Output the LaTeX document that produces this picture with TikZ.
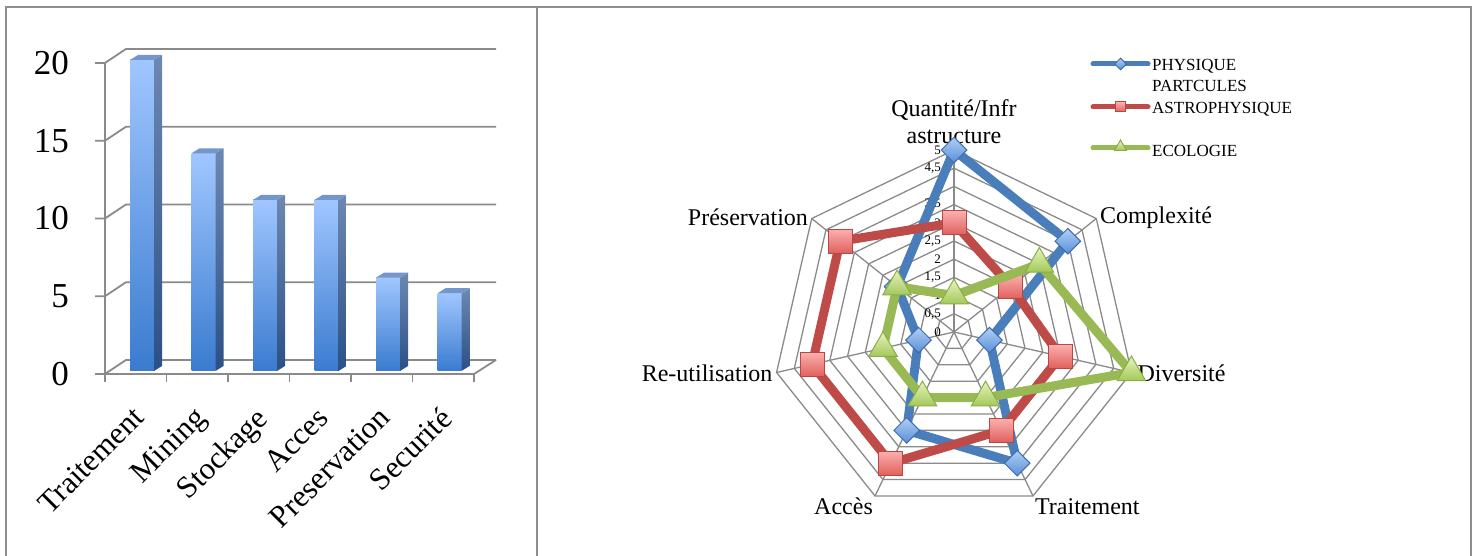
\documentclass[tikz,border=0pt]{standalone}
\usepackage{fontspec}
\setmainfont{Liberation Serif}
\usetikzlibrary{shapes.geometric}

\definecolor{framegray}{HTML}{8E8E8E}
\definecolor{gridgray}{HTML}{8A8A8A}
\definecolor{barlight}{HTML}{A0C6FF}
\definecolor{bardark}{HTML}{3A7BCF}
\definecolor{sidelight}{HTML}{6C88B2}
\definecolor{sidedark}{HTML}{2B5086}
\definecolor{bartop}{HTML}{7596CA}
\definecolor{physblue}{HTML}{4A7EBB}
\definecolor{physedge}{HTML}{3E6DAD}
\definecolor{physlight}{HTML}{B0CFF5}
\definecolor{physdark}{HTML}{5A8FD8}
\definecolor{astrored}{HTML}{BE4B48}
\definecolor{astroedge}{HTML}{B84744}
\definecolor{astrolight}{HTML}{FAB0AE}
\definecolor{astrodark}{HTML}{E0605D}
\definecolor{ecogreen}{HTML}{98B954}
\definecolor{ecoedge}{HTML}{8AAE46}
\definecolor{ecolight}{HTML}{E6F4BE}
\definecolor{ecodark}{HTML}{A5C85A}

\begin{document}
\begin{tikzpicture}[x=1pt, y=1pt,
  panel/.style={draw=framegray, line width=2pt},
  chartgrid/.style={draw=gridgray, line width=1.8pt},
  radargrid/.style={draw=gridgray, line width=1.3pt},
  ticklabel/.style={font=\fontsize{35}{37}\selectfont, anchor=east, inner sep=2pt},
  catlabel/.style={font=\fontsize{31}{33}\selectfont, rotate=45, anchor=north east, inner sep=0pt},
  axislabel/.style={font=\fontsize{24}{27}\selectfont, inner sep=2pt},
  levellabel/.style={font=\fontsize{13}{14}\selectfont, anchor=east, inner sep=0pt},
  legendtext/.style={font=\fontsize{17}{21}\selectfont, inner sep=0pt, align=left},
  physline/.style={draw=physblue, line width=9pt, line join=round},
  astroline/.style={draw=astrored, line width=9pt, line join=round},
  ecoline/.style={draw=ecogreen, line width=9pt, line join=round},
  physmark/.style={diamond, draw=physedge, line width=1pt, top color=physlight, bottom color=physdark, minimum size=26pt, inner sep=0pt},
  astromark/.style={rectangle, draw=astroedge, line width=1pt, top color=astrolight, bottom color=astrodark, minimum size=24pt, inner sep=0pt},
  ecomark/.style={regular polygon, regular polygon sides=3, draw=ecoedge, line width=1pt, top color=ecolight, bottom color=ecodark, minimum size=33pt, inner sep=0pt},
]
\useasboundingbox (0,0) rectangle (1478,556);

% panels
\draw[panel] (6,0) -- (6,549) -- (1471,549) -- (1471,0);
\draw[panel] (537,0) -- (537,549);

% bar chart: walls and floor
\foreach \v in {0,5,...,20} {
  \draw[chartgrid] (95,182+15.55*\v) -- (105,182+15.55*\v) -- (126,196+15.55*\v) -- (496,196+15.55*\v);
  \node[ticklabel] (tick\v) at (71,182+15.55*\v) {\v};
}
\draw[chartgrid] (105,182) -- (105,493);
\draw[chartgrid] (105,182) -- (474,182) -- (496,196);
\foreach \i in {0,...,6}
  \draw[chartgrid] (105+61.5*\i,182) -- (105+61.5*\i,174);

% bars
\foreach \v [count=\i from 0] in {20,14,11,11,6,5} {
  \pgfmathsetmacro\bx{130+61.5*\i}
  \pgfmathsetmacro\bt{185+15.55*\v}
  \shade[top color=barlight, bottom color=bardark] (\bx,185) rectangle (\bx+24,\bt);
  \shade[top color=sidelight, bottom color=sidedark] (\bx+24,185) -- (\bx+24,\bt) -- (\bx+32,\bt+5) -- (\bx+32,190) -- cycle;
  \fill[bartop] (\bx,\bt) -- (\bx+24,\bt) -- (\bx+32,\bt+5) -- (\bx+8,\bt+5) -- cycle;
}
\foreach \c [count=\i from 0] in {Traitement,Mining,Stockage,Acces,Preservation,Securité}
  \node[catlabel] (cat\i) at (131+61.5*\i,151) {\c};

% radar chart
\begin{scope}[shift={(954,224)}]
  \foreach \r in {1,...,10}
    \draw[radargrid] (90:\r*18.2) \foreach \k in {1,...,6} {-- ({90-\k*360/7}:\r*18.2)} -- cycle;
  \foreach \k in {0,...,6}
    \draw[radargrid] (0,0) -- ({90-\k*360/7}:182);

  \foreach \l/\t in {0/0,1/{0,5},2/1,3/{1,5},4/2,5/{2,5},6/3,7/{3,5},8/4,9/{4,5},10/5}
    \node[levellabel] (level\l) at (-13,\l*18.2) {\t};

  \node[axislabel, anchor=south, align=center] (quantite) at (90:186) {Quantité/Infr\\astructure};
  \node[axislabel, anchor=west] (complexite) at ({90-360/7}:184) {Complexité};
  \node[axislabel, anchor=west] (diversite) at ({90-2*360/7}:186) {Diversité};
  \node[axislabel, anchor=north west] (traitement) at ({90-3*360/7}:182) {Traitement};
  \node[axislabel, anchor=north east] (acces) at ({90-4*360/7}:182) {Accès};
  \node[axislabel, anchor=east] (reutil) at ({90-5*360/7}:184) {Re-utilisation};
  \node[axislabel, anchor=east] (preserv) at ({90-6*360/7}:184) {Préservation};

  % series
  \foreach \v [count=\k from 0] in {5,4,1,4,3,1,2}
    \coordinate (phys\k) at ({90-\k*360/7}:\v*36.4);
  \draw[physline] (phys0) -- (phys1) -- (phys2) -- (phys3) -- (phys4) -- (phys5) -- (phys6) -- cycle;
  \foreach \k in {0,...,6}
    \node[physmark] (physm\k) at (phys\k) {};

  \foreach \v [count=\k from 0] in {3,2,3,3,4,4,4}
    \coordinate (astro\k) at ({90-\k*360/7}:\v*36.4);
  \draw[astroline] (astro0) -- (astro1) -- (astro2) -- (astro3) -- (astro4) -- (astro5) -- (astro6) -- cycle;
  \foreach \k in {0,...,6}
    \node[astromark] (astrom\k) at (astro\k) {};

  \foreach \v [count=\k from 0] in {1,3,5,2,2,2,2}
    \coordinate (eco\k) at ({90-\k*360/7}:\v*36.4);
  \draw[ecoline] (eco0) -- (eco1) -- (eco2) -- (eco3) -- (eco4) -- (eco5) -- (eco6) -- cycle;
  \foreach \k in {0,...,6}
    \node[ecomark] (ecom\k) at (eco\k) {};
\end{scope}

% legend
\coordinate (legphysA) at (1093,492);
\coordinate (legphysB) at (1148,492);
\draw[physline, line width=5pt, line cap=round] (legphysA) -- (legphysB);
\node[physmark, minimum size=12pt] (legphysm) at (1120.5,492) {};
\node[legendtext, anchor=north west] (legphys) at (1152,497) {PHYSIQUE\\PARTCULES};

\coordinate (legastroA) at (1093,449);
\coordinate (legastroB) at (1148,449);
\draw[astroline, line width=5pt, line cap=round] (legastroA) -- (legastroB);
\node[astromark, minimum size=10pt] (legastrom) at (1120.5,449) {};
\node[legendtext, anchor=base west] (legastro) at (1152,442) {ASTROPHYSIQUE};

\coordinate (legecoA) at (1093,408);
\coordinate (legecoB) at (1148,408);
\draw[ecoline, line width=5pt, line cap=round] (legecoA) -- (legecoB);
\node[ecomark, minimum size=14pt] (legecom) at (1120.5,409) {};
\node[legendtext, anchor=base west] (legeco) at (1152,399) {ECOLOGIE};
\end{tikzpicture}
\end{document}
